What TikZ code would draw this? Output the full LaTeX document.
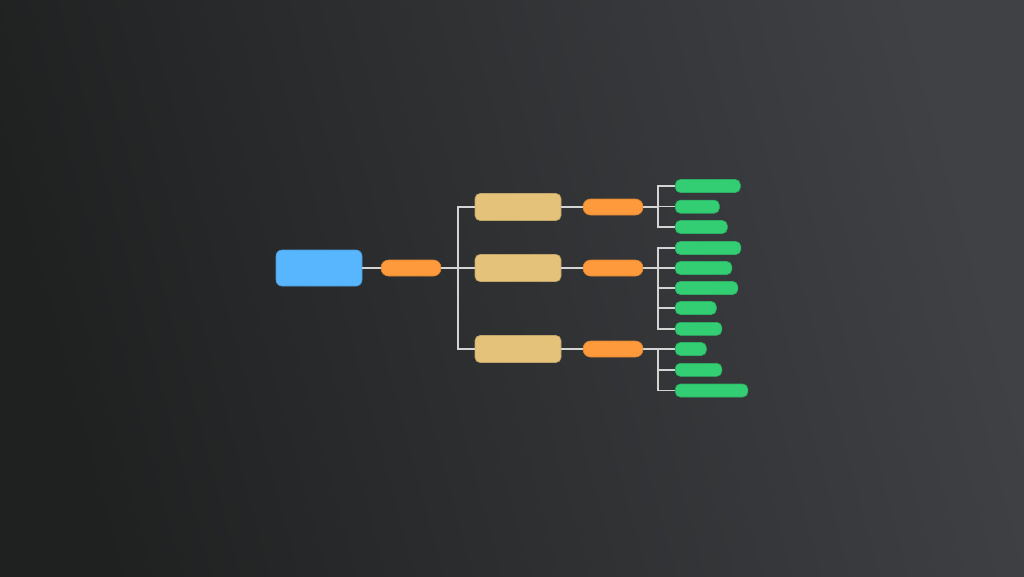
\documentclass[tikz,border=0pt]{standalone}
\usepackage{tikz}
\usetikzlibrary{math}

\definecolor{bgdark}{HTML}{1F2020}
\definecolor{bglight}{HTML}{404145}
\definecolor{rootblue}{HTML}{58B5FF}
\definecolor{linkorange}{HTML}{FF9A3C}
\definecolor{branchtan}{HTML}{E4C27A}
\definecolor{leafgreen}{HTML}{33CE74}
\definecolor{wiregrey}{HTML}{D4D4D4}

\tikzset{
	box/.style={inner sep=0pt, rounded corners=5pt, draw=#1!85!black, fill=#1, line width=0.6pt},
	rootbox/.style={box=rootblue, minimum width=86pt, minimum height=36pt, rounded corners=6pt},
	linkbox/.style={box=linkorange, minimum width=60pt, minimum height=16pt, rounded corners=7.5pt},
	branchbox/.style={box=branchtan, minimum width=86pt, minimum height=27pt},
	leafbox/.style={box=leafgreen, minimum height=13pt, anchor=west},
	wire/.style={draw=wiregrey, line width=1.5pt}
}

\begin{document}
\begin{tikzpicture}[x=1pt,y=-1pt]

	\shade[left color=bgdark, right color=bglight, shading angle=105] (0,0) rectangle (1024,576);
	\useasboundingbox (0,0) rectangle (1024,576);

	\tikzmath{\xb = 518;};
	\tikzmath{\xs = 613;};
	\tikzmath{\xf = 658;};
	\tikzmath{\xl = 675;};

	\node[rootbox] (root) at (319,268) {};
	\node[linkbox] (link) at (411,268) {};
	\coordinate (trunk) at (458,268);

	\foreach \i/\y in {1/207,2/268,3/349} {
		\node[branchbox] (branch\i) at (\xb,\y) {};
		\node[linkbox] (sub\i) at (\xs,\y) {};
		\coordinate (fork\i) at (\xf,\y);
	}

	\foreach \j/\y/\w in {1/186/65,2/206.7/44,3/227/52,4/248/65.5,5/268/56.5,6/288/62.5,7/308/41,8/328.8/46.5,9/349/31,10/369.8/46.5,11/390.5/72.5}
		\node[leafbox, minimum width=\w pt] (leaf\j) at (\xl,\y) {};

	% root to branches
	\draw[wire] (root) -- (link);
	\draw[wire] (link) -- (branch2);
	\draw[wire] (trunk) |- (branch1.west);
	\draw[wire] (trunk) |- (branch3.west);

	% branches to leaves
	\foreach \i in {1,2,3} {
		\draw[wire] (branch\i) -- (sub\i);
		\draw[wire] (sub\i.east) -- (fork\i);
	}
	\foreach \j/\g in {1/1,2/1,3/1,4/2,5/2,6/2,7/2,8/2,9/3,10/3,11/3}
		\draw[wire] (fork\g) |- (leaf\j.west);

\end{tikzpicture}
\end{document}
